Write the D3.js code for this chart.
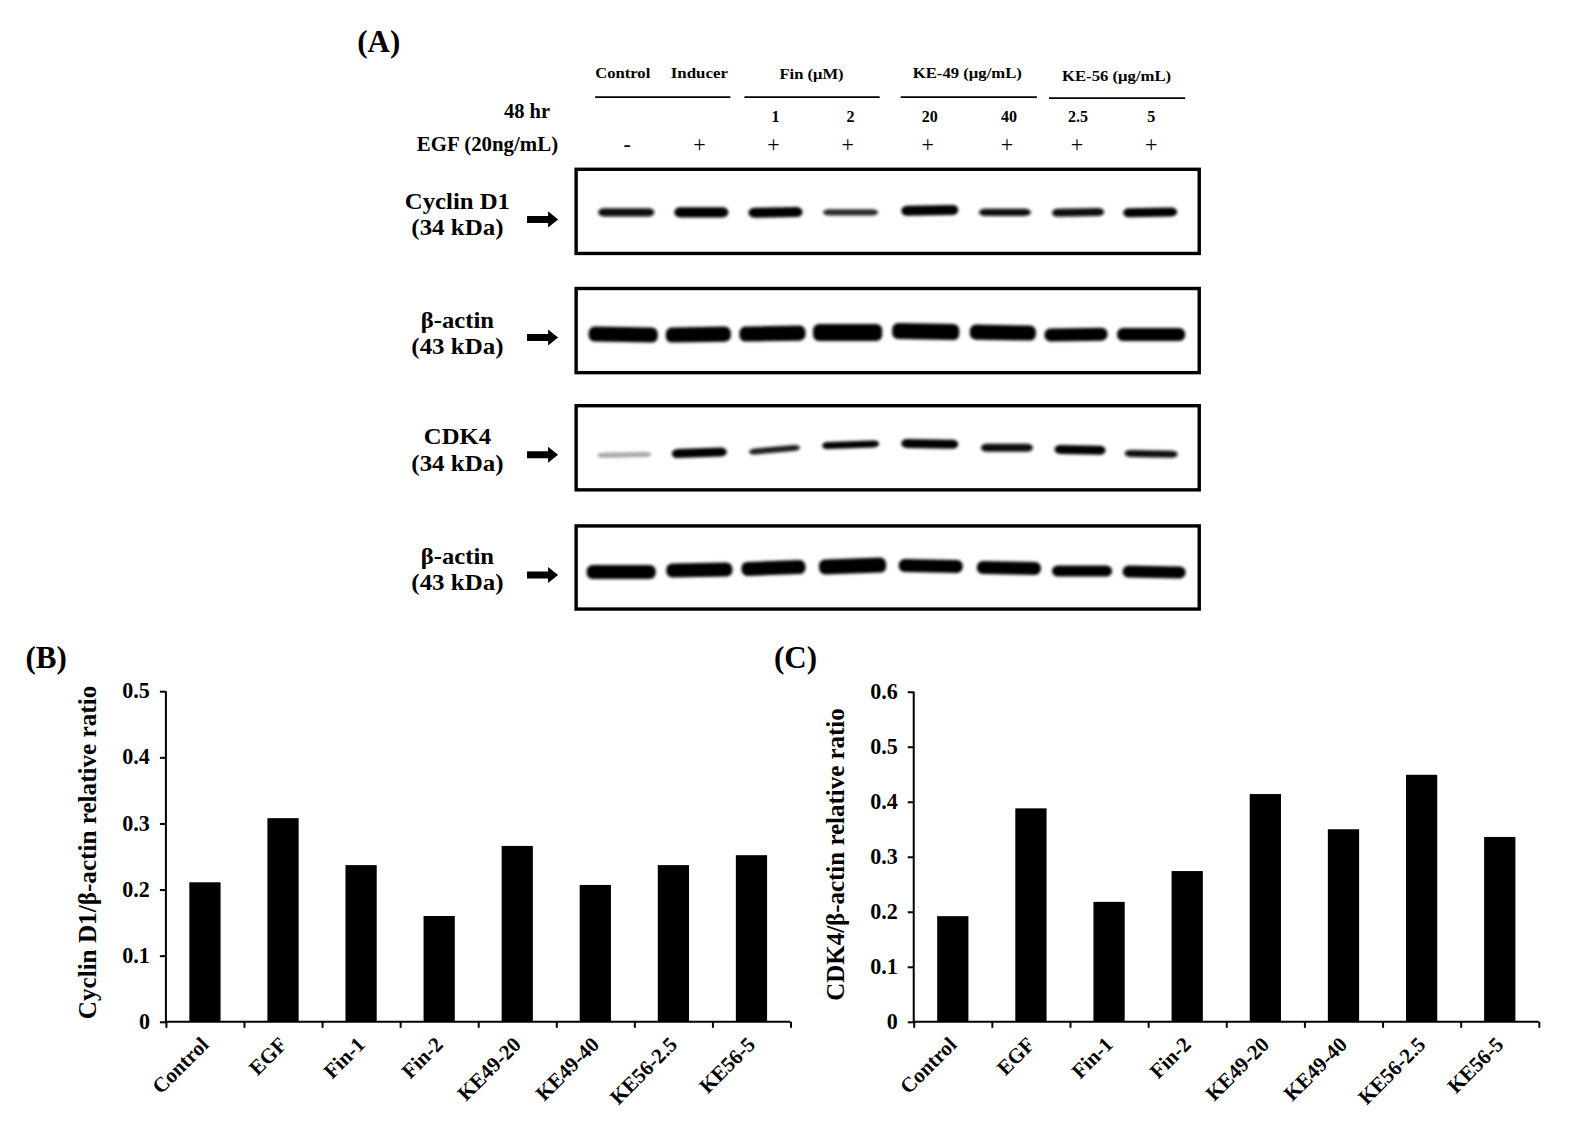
<!DOCTYPE html>
<html><head><meta charset="utf-8">
<script src="https://cdn.jsdelivr.net/npm/d3@7"></script>
<style>
html,body{margin:0;padding:0;background:#fff}
svg{display:block}
text{font-family:"Liberation Serif",serif;font-weight:700;fill:#000}
</style></head><body>
<svg id="c" width="1571" height="1134" viewBox="0 0 1568 1132"></svg>
<script>
// ---- bar chart data
const categories = ["Control","EGF","Fin-1","Fin-2","KE49-20","KE49-40","KE56-2.5","KE56-5"];
const cyclinRatio = [0.211,0.308,0.237,0.160,0.266,0.207,0.237,0.252];
const cdk4Ratio = [0.192,0.388,0.218,0.274,0.414,0.350,0.449,0.336];
const cyclinTicks = [0,0.1,0.2,0.3,0.4,0.5];
const cdk4Ticks = [0,0.1,0.2,0.3,0.4,0.5,0.6];
// ---- blot annotation
const treatmentGroups = ["Control","Inducer","Fin (μM)","KE-49 (μg/mL)","KE-56 (μg/mL)"];
const doses = ["","","1","2","20","40","2.5","5"];
const egfSigns = ["-","+","+","+","+","+","+","+"];
const blotNames = [["Cyclin D1","(34 kDa)"],["β-actin","(43 kDa)"],["CDK4","(34 kDa)"],["β-actin","(43 kDa)"]];
// ---- band readings per lane: darkness 0-1, and relative band thickness
const cyclinDark = [0.95,1,1,0.85,1,0.95,0.95,1];
const cyclinThick = [8,10,10,6,10,7,8,9];
const actin1Dark = [1,1,1,1,1,1,1,1];
const actin1Thick = [15,15,15,17,16,15,13,13];
const cdk4Dark = [0.35,1,0.9,1,1,0.95,1,0.95];
const cdk4Thick = [5,9,6,7,9,8,9,7];
const actin2Dark = [1,1,1,1,1,1,1,1];
const actin2Thick = [14,14,14,15,13,13,11,12];

const svg = d3.select("#c");
const defs = svg.append("defs");
defs.append("filter").attr("id","blur").attr("x","-10%").attr("y","-80%").attr("width","120%").attr("height","260%")
  .append("feGaussianBlur").attr("stdDeviation","1.5");

function txt(x,y,s,size,opts={}){
  const t = svg.append("text").attr("x",x).attr("y",y).attr("font-size",size).text(s)
    .attr("text-anchor",opts.anchor||"middle");
  if(opts.len) t.attr("textLength",opts.len).attr("lengthAdjust","spacingAndGlyphs");
  return t;
}

// ---- Panel A
txt(378,52,"(A)",31);
const groupLayout = [[621.5,78,55],[698,78,57],[810,79,64],[965.5,78,109],[1114.5,81,109]];
treatmentGroups.forEach((g,i)=>{
  const l = groupLayout[i];
  txt(l[0],l[1],g,15.5,{len:l[2]});
});
[[594,729,97],[743,878,97],[899,1035,97],[1047,1183,98]].forEach(d=>{
  svg.append("line").attr("x1",d[0]).attr("x2",d[1]).attr("y1",d[2]).attr("y2",d[2]).attr("stroke","#000").attr("stroke-width",1.8);
});
txt(526,118,"48 hr",20,{len:46});
txt(486.5,151,"EGF (20ng/mL)",20,{len:141});
const doseX = [626,698,774,849,928,1007,1076,1149];
const signX = [626,698,772,846,926,1005,1075,1149];
doses.forEach((d,i)=>{ if(d) txt(doseX[i],122,d,16); });
egfSigns.forEach((s,i)=>{
  svg.append("text").attr("x",signX[i]).attr("y",152).attr("text-anchor","middle").attr("font-size",22).style("font-weight",400).text(s);
});

const blotBoxes = [[169,253],[288,372],[405,489],[525,608]];
const blotX = [575,1197];
const laneCenters = [
 [625,700,774,849,928,1003,1076,1148],
 [622,697,771,846,924,1001,1074,1149],
 [623,698,773,849,928,1005,1078,1149],
 [620,698,772,851,929,1007,1080,1152]];
const laneWidths = [
 [56,54,54,55,57,52,52,54],
 [69,65,66,69,67,66,63,68],
 [54,55,51,57,57,52,51,53],
 [69,66,64,67,64,64,60,63]];
const laneY = [
 [212,212,212,212,210,212,212,212],
 [334,334,333,332,331,332,334,334],
 [454,452,449,444,443,447,449,453],
 [571,569,567,565,565,567,570,571]];
const laneTilt = [
 [0,0,-1,0,-1,0,-1,-1],
 [1,-1,-1,0,1,1,-1,0],
 [-1,-2,-5,-2,1,0,1,1],
 [0,-1,-2,-2,1,1,0,1]];
const darks = [cyclinDark,actin1Dark,cdk4Dark,actin2Dark];
const thicks = [cyclinThick,actin1Thick,cdk4Thick,actin2Thick];
const labelY = [[209,235],[327,353],[443,470],[563,589]];
const arrowY = [219,337,454,574];
const labelLen = [[105,92],[73,92],[67,92],[73,92]];
const darkScale = d3.scaleLinear().domain([0,1]).range(["#fff","#000"]);

blotBoxes.forEach((b,k)=>{
  svg.append("rect").attr("x",blotX[0]).attr("y",b[0]).attr("width",blotX[1]-blotX[0]).attr("height",b[1]-b[0])
    .attr("fill","#fff").attr("stroke","#000").attr("stroke-width",3.4);
  svg.append("g").attr("filter","url(#blur)").selectAll("rect").data(darks[k]).join("rect")
    .attr("x",(d,i)=>laneCenters[k][i]-laneWidths[k][i]/2)
    .attr("width",(d,i)=>laneWidths[k][i])
    .attr("y",(d,i)=>laneY[k][i]-thicks[k][i]/2)
    .attr("height",(d,i)=>thicks[k][i])
    .attr("transform",(d,i)=>`rotate(${laneTilt[k][i]} ${laneCenters[k][i]} ${laneY[k][i]})`)
    .attr("rx",6).attr("fill",d=>darkScale(d));
  const nm = blotNames[k];
  txt(456.5,labelY[k][0],nm[0],24,{len:labelLen[k][0]});
  txt(456.5,labelY[k][1],nm[1],24,{len:labelLen[k][1]});
  const ay = arrowY[k];
  svg.append("path").attr("d",d3.line()([[526,ay-3.5],[547,ay-3.5],[547,ay-8],[557,ay],[547,ay+8],[547,ay+3.5],[526,ay+3.5]])+"Z").attr("fill","#000");
});

// ---- Panels B and C
function barPanel(opts){
  const {x0,x1,yTop,yBase,values,ticks,title,titleX,titleY,titleLen,tag,tagX} = opts;
  const y = d3.scaleLinear().domain([0,d3.max(ticks)]).range([yBase,yTop]);
  const x = d3.scaleBand().domain(categories).range([x0,x1]).paddingInner(0.6).paddingOuter(0.3);
  const edge = d3.scaleLinear().domain([0,categories.length]).range([x0,x1]);
  const g = svg.append("g");
  g.selectAll("rect").data(values).join("rect")
    .attr("x",(d,i)=>x(categories[i])).attr("width",x.bandwidth())
    .attr("y",d=>y(d)).attr("height",d=>y(0)-y(d)).attr("fill","#000");
  const ya = g.append("g").attr("transform",`translate(${x0},0)`)
    .call(d3.axisLeft(y).tickValues(ticks).tickSize(6).tickPadding(10).tickFormat(d=>d===0?"0":d3.format(".1f")(d)));
  ya.selectAll("text").attr("font-size",22).attr("font-family",null).attr("fill","#000").attr("dy","0.3em");
  const xa = g.append("g").attr("transform",`translate(0,${yBase})`)
    .call(d3.axisBottom(edge).tickValues(d3.range(categories.length+1)).tickSize(6).tickFormat(""));
  [ya,xa].forEach(a=>{a.selectAll("path,line").attr("stroke","#000").attr("stroke-width",2);});
  xa.select("path").attr("d",`M${x0},0H${x1}`);
  ya.select("path").attr("d",`M0,${y(d3.max(ticks))}V${yBase}`);
  categories.forEach(c=>{
    const cx = x(c)+x.bandwidth()/2+5, cy = yBase+24;
    g.append("text").attr("transform",`translate(${cx},${cy}) rotate(-45)`).attr("text-anchor","end")
      .attr("font-size",21).text(c);
  });
  g.append("text").attr("transform",`translate(${titleX},${titleY}) rotate(-90)`).attr("text-anchor","middle")
    .attr("font-size",25).attr("textLength",titleLen).attr("lengthAdjust","spacingAndGlyphs").text(title);
  txt(tagX,667,tag,31);
}
barPanel({x0:165.5,x1:789,yTop:690,yBase:1020,values:cyclinRatio,ticks:cyclinTicks,
  title:"Cyclin D1/β-actin relative ratio",titleX:96,titleY:851,titleLen:333,tag:"(B)",tagX:46});
barPanel({x0:912,x1:1536,yTop:690.5,yBase:1020,values:cdk4Ratio,ticks:cdk4Ticks,
  title:"CDK4/β-actin relative ratio",titleX:842,titleY:853,titleLen:292,tag:"(C)",tagX:794});
</script>
</body></html>
